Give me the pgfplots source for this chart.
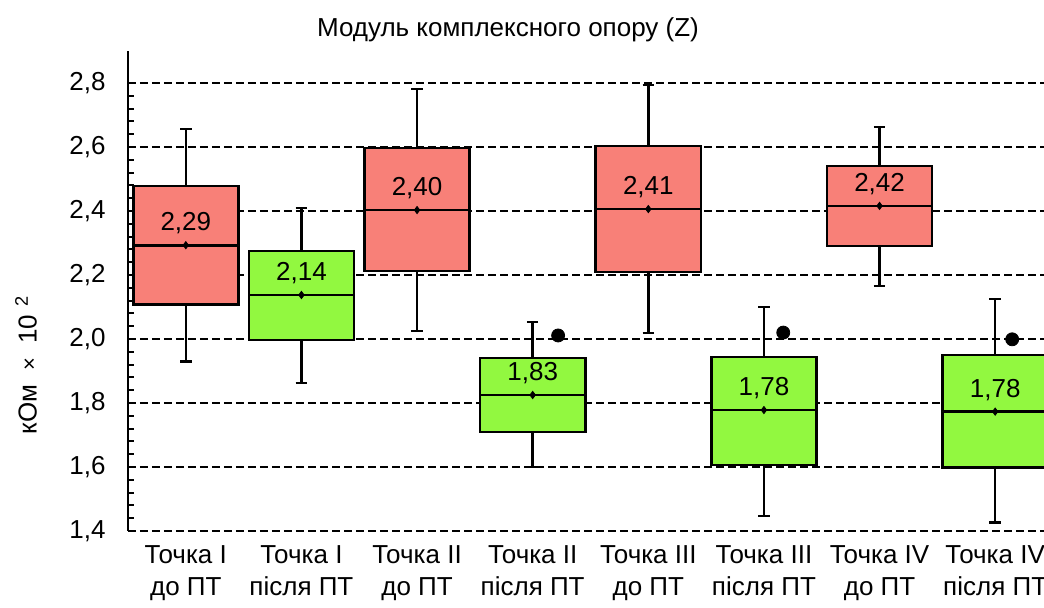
\documentclass[border=0pt]{standalone}
\usepackage{pgfplots}
\pgfplotsset{compat=1.18}
\usepgfplotslibrary{statistics}
\usepackage{fontspec}
\setmainfont{Liberation Sans}
\definecolor{myred}{RGB}{248,128,120}
\definecolor{mygreen}{RGB}{146,248,64}
\begin{document}
\begin{tikzpicture}[font=\fontsize{13}{16}\selectfont]
\begin{axis}[
  scale only axis, width=462.5pt, height=240pt,
  xmin=-0.5, xmax=7.5, ymin=1.4, ymax=2.9,
  axis y line*=left, axis x line*=bottom,
  x axis line style={draw=none},
  y axis line style={line width=1.2pt, black},
  xtick={0,1,2,3,4,5,6,7},
  xticklabels={Точка I\\до ПТ, Точка I\\після ПТ, Точка II\\до ПТ, Точка II\\після ПТ, Точка III\\до ПТ, Точка III\\після ПТ, Точка IV\\до ПТ, Точка IV\\після ПТ},
  x tick label style={align=center, yshift=-3.7pt},
  xtick style={draw=none},
  ytick={1.4,1.6,1.8,2.0,2.2,2.4,2.6,2.8},
  minor y tick num=4,
  tick align=inside,
  major tick length=3pt, minor tick length=3pt,
  ytick style={line width=1pt, black},
  minor y tick style={line width=1pt, black},
  y tick label style={xshift=-7.7pt, /pgf/number format/.cd, fixed, fixed zerofill, precision=1, use comma, assume math mode=true},
  ymajorgrids,
  major grid style={dash pattern=on 4pt off 2pt, line width=1pt, black},
  title={Модуль комплексного опору (Z)},
  every axis title shift=0pt,
  title style={at={(axis description cs:0.4108,1.0298)}, anchor=base, yshift=0pt},
  ylabel={кОм\hspace{7pt}{\fontsize{11}{12}\selectfont×}\hspace{7pt}10\hspace{4pt}\textsuperscript{2}},
  ylabel style={at={(axis description cs:-0.0987,0.346)}, anchor=base},
  clip=false,
  boxplot/draw direction=y,
]
% boxes
\addplot[draw=black, fill=myred, line width=1.3pt, boxplot prepared={draw position=0, lower whisker=1.929, lower quartile=2.108, median=2.293, upper quartile=2.478, upper whisker=2.656, box extend=0.91, whisker extend=0.10}] coordinates {};
\addplot[draw=black, fill=mygreen, line width=1.3pt, boxplot prepared={draw position=1, lower whisker=1.8625, lower quartile=1.997, median=2.1375, upper quartile=2.275, upper whisker=2.409, box extend=0.91, whisker extend=0.10}] coordinates {};
\addplot[draw=black, fill=myred, line width=1.3pt, boxplot prepared={draw position=2, lower whisker=2.025, lower quartile=2.2125, median=2.403, upper quartile=2.597, upper whisker=2.781, box extend=0.91, whisker extend=0.10}] coordinates {};
\addplot[draw=black, fill=mygreen, line width=1.3pt, boxplot prepared={draw position=3, lower whisker=1.6, lower quartile=1.709, median=1.825, upper quartile=1.941, upper whisker=2.053, box extend=0.91, whisker extend=0.10}] coordinates {};
\addplot[draw=black, fill=myred, line width=1.3pt, boxplot prepared={draw position=4, lower whisker=2.019, lower quartile=2.209, median=2.406, upper quartile=2.603, upper whisker=2.794, box extend=0.91, whisker extend=0.10}] coordinates {};
\addplot[draw=black, fill=mygreen, line width=1.3pt, boxplot prepared={draw position=5, lower whisker=1.447, lower quartile=1.606, median=1.778, upper quartile=1.944, upper whisker=2.1, box extend=0.91, whisker extend=0.10}] coordinates {};
\addplot[draw=black, fill=myred, line width=1.3pt, boxplot prepared={draw position=6, lower whisker=2.166, lower quartile=2.291, median=2.416, upper quartile=2.541, upper whisker=2.6625, box extend=0.91, whisker extend=0.10}] coordinates {};
\addplot[draw=black, fill=mygreen, line width=1.3pt, boxplot prepared={draw position=7, lower whisker=1.426, lower quartile=1.598, median=1.773, upper quartile=1.95, upper whisker=2.125, box extend=0.91, whisker extend=0.10}] coordinates {};
% median diamonds
\addplot[only marks, mark=diamond*, mark size=1.8pt, black] coordinates {(0,2.293) (1,2.1375) (2,2.403) (3,1.825) (4,2.406) (5,1.778) (6,2.416) (7,1.773)};
% outliers
\addplot[only marks, mark=*, mark size=3.25pt, black] coordinates {(3.22,2.011) (5.167,2.02) (7.147,1.999)};
% labels
\addplot[only marks, mark=none, nodes near coords, point meta=explicit symbolic, nodes near coords style={anchor=center, yshift=11pt, black}] coordinates {(0,2.293)[2{,}29] (1,2.1375)[2{,}14] (2,2.403)[2{,}40] (3,1.825)[1{,}83] (4,2.406)[2{,}41] (5,1.778)[1{,}78] (6,2.416)[2{,}42] (7,1.773)[1{,}78]};
\end{axis}
\pgfresetboundingbox
\path[use as bounding box] ([xshift=-64pt,yshift=-38.5pt]current axis.south west) rectangle ([xshift=-4.5pt,yshift=25.5pt]current axis.north east);
\end{tikzpicture}
\end{document}
